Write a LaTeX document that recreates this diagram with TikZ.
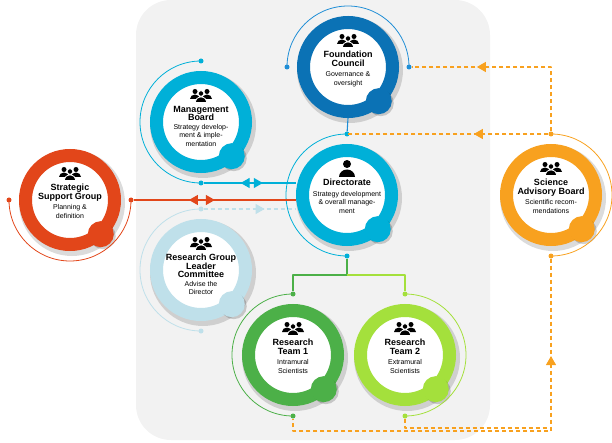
\documentclass[tikz,border=0pt]{standalone}
\usepackage{fontspec}
\setmainfont{Liberation Sans}
\usetikzlibrary{arrows.meta,decorations.markings}

\definecolor{bggray}{HTML}{F2F2F2}
\definecolor{fcblue}{HTML}{0B72B5}
\definecolor{fcthin}{HTML}{1F8ED6}
\definecolor{mbcyan}{HTML}{00B0D8}
\definecolor{rglight}{HTML}{BFE0EA}
\definecolor{tgreen}{HTML}{4CB048}
\definecolor{tlime}{HTML}{A4E03C}
\definecolor{ssgred}{HTML}{E2461A}
\definecolor{saborange}{HTML}{F8A11F}

\newcommand\ttl[1]{{\fontsize{9}{10.5}\selectfont\bfseries #1}}

\tikzset{
  ring/.style={circle, draw=#1, line width=13pt, fill=white, minimum size=89pt, inner sep=0pt},
  thin arc/.style={draw=#1, line width=0.8pt},
  dot/.style={circle, fill=#1, minimum size=5pt, inner sep=0pt},
  label text/.style={anchor=north, align=center, inner sep=0pt, font=\fontsize{7}{8.5}\selectfont},
  link/.style={draw=#1, line width=1.1pt, line join=round},
  mid arrow/.style={postaction={decorate,decoration={markings,
      mark=at position #1 with {\arrow{Triangle[length=9pt,width=10pt]}}}}},
  back arrow/.style={postaction={decorate,decoration={markings,
      mark=at position #1 with {\arrowreversed{Triangle[length=9pt,width=10pt]}}}}},
  orange dash/.style={link=saborange, dash pattern=on 4pt off 3pt},
  people/.pic={
    \fill (-6,3.5) circle (2.5);
    \fill (6,3.5) circle (2.5);
    \fill (-11,-4) arc (180:0:5 and 4.5) -- cycle;
    \fill (1,-4) arc (180:0:5 and 4.5) -- cycle;
    \filldraw[draw=white, line width=0.8pt] (0,1.5) circle (2.8);
    \filldraw[draw=white, line width=0.8pt] (-6,-7.5) arc (180:0:6 and 5.5) -- cycle;
  },
  person/.pic={
    \fill (0,4) circle (4);
    \fill (-8,-9) arc (180:0:8 and 7.5) -- cycle;
  }
}

% #1 name, #2 x, #3 y, #4 ring colour, #5 thin colour, #6 arc start, #7 arc end, #8 icon, #9 text
\newcommand\orgunit[9]{%
  \fill[black, opacity=0.14] (#2+2,#3-3) circle (53);
  \node[ring=#4] (#1) at (#2,#3) {};
  \fill[black, opacity=0.18] ([shift={(-48:46)}]#1.center) ++(2,-2) circle (13);
  \fill[#4] ([shift={(-48:46)}]#1.center) circle (13);
  \draw[thin arc=#5] ([shift={(#6:61)}]#1.center) arc (#6:#7:61);
  \node[dot=#5] (#1A) at ([shift={(#6:61)}]#1.center) {};
  \node[dot=#5] (#1B) at ([shift={(#7:61)}]#1.center) {};
  \pic at ([yshift=27pt]#1.center) {#8};
  \node[label text] (#1T) at ([yshift=16pt]#1.center) {#9};
}

\begin{document}
\begin{tikzpicture}[x=1pt, y=1pt]
  \useasboundingbox (0,0) rectangle (612,442);
  \fill[bggray, rounded corners=35pt] (136,2) rectangle (490,442);

  % units
  \orgunit{fc}{348}{375}{fcblue}{fcthin}{180}{0}{people}{\ttl{Foundation}\\\ttl{Council}\\[2pt]Governance \&\\oversight}
  \orgunit{mb}{201}{320}{mbcyan}{mbcyan}{90}{270}{people}{\ttl{Management}\\\ttl{Board}\\Strategy develop-\\ment \& imple-\\mentation}
  \orgunit{dir}{347}{247}{mbcyan}{mbcyan}{90}{270}{person}{\ttl{Directorate}\\[2pt]Strategy development\\\& overall manage-\\ment}
  \orgunit{rg}{201}{172}{rglight}{rglight}{90}{270}{people}{\ttl{Research Group}\\\ttl{Leader}\\\ttl{Committee}\\Advise the\\Director}
  \orgunit{ta}{293}{87}{tgreen}{tgreen}{90}{270}{people}{\ttl{Research}\\\ttl{Team 1}\\[2pt]Intramural\\Scientists}
  \orgunit{tb}{405}{87}{tlime}{tlime}{90}{-90}{people}{\ttl{Research}\\\ttl{Team 2}\\[2pt]Extramural\\Scientists}
  \orgunit{ssg}{70}{242}{ssgred}{ssgred}{180}{360}{people}{\ttl{Strategic}\\\ttl{Support Group}\\[2pt]Planning \&\\definition}
  \orgunit{sab}{551}{247}{saborange}{saborange}{90}{-90}{people}{\ttl{Science}\\\ttl{Advisory Board}\\[2pt]Scientific recom-\\mendations}

  % connectors
  \draw[link=fcthin] (fc.south) -- (dirA);
  \draw[link=mbcyan, back arrow=0.40, mid arrow=0.64] (mbB) -- (mbB -| dir.west);
  \draw[link=ssgred, back arrow=0.34, mid arrow=0.50] (ssgB) -- (ssgB -| dir.west);
  \draw[link=rglight, dash pattern=on 4pt off 3pt, mid arrow=0.66] (rgA) -- (rgA -| dir.west);
  \draw[link=tgreen] (dirB) -- ++(0,-19) coordinate (split) -| (taA);
  \draw[link=tlime] (split) -| (tbA);

  \draw[orange dash, mid arrow=0.68] (sabA) |- (fcB);
  \draw[orange dash, mid arrow=0.37] (sabA) -- (sabA -| dirA);
  \coordinate (sabC) at (549,14);
  \draw[orange dash, back arrow=0.22] (sabB) -- ++(0,-175) -| (taB);
  \draw[orange dash] (tbB) |- (sabC);
\end{tikzpicture}
\end{document}
